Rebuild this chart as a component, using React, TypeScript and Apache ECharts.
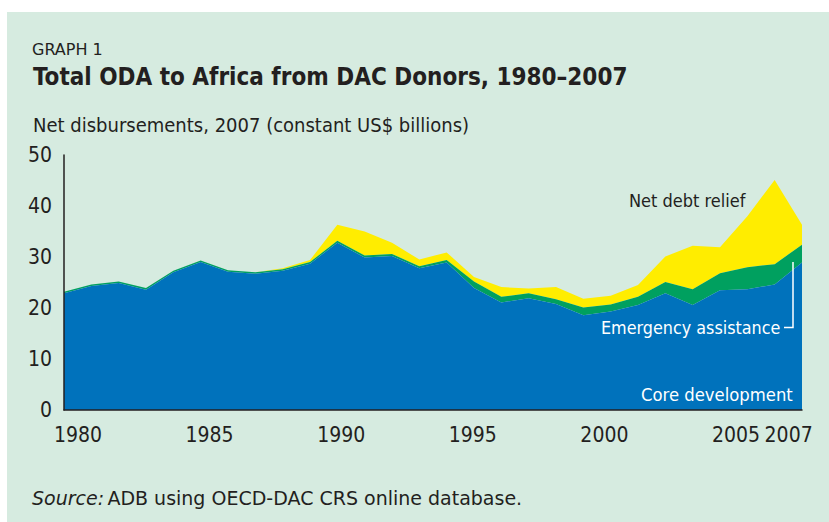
import React, { useEffect, useRef } from "react";
import * as echarts from "echarts";

const years = [
  "1980","1981","1982","1983","1984","1985","1986","1987","1988","1989",
  "1990","1991","1992","1993","1994","1995","1996","1997","1998","1999",
  "2000","2001","2002","2003","2004","2005","2006","2007",
];
const yearTickLabels = [1980, 1985, 1990, 1995, 2000, 2005, 2007];

const coreDevelopment = [
  22.9, 24.3, 24.9, 23.6, 27.0, 29.0, 27.1, 26.7, 27.3, 28.7,
  32.8, 29.9, 30.2, 27.8, 28.9, 23.9, 21.1, 21.9, 20.8, 18.6,
  19.3, 20.6, 22.9, 20.6, 23.5, 23.7, 24.6, 28.9,
];
const emergencyAssistance = [
  0.3, 0.3, 0.3, 0.3, 0.3, 0.3, 0.3, 0.3, 0.3, 0.3,
  0.4, 0.4, 0.4, 0.4, 0.5, 1.3, 1.1, 1.0, 0.9, 1.5,
  1.4, 1.6, 2.2, 3.1, 3.3, 4.3, 4.0, 3.5,
];
const netDebtRelief = [
  0, 0, 0, 0, 0, 0, 0, 0, 0.2, 0.4,
  3.1, 4.7, 2.2, 1.3, 1.5, 0.9, 1.9, 0.9, 2.4, 1.7,
  1.7, 2.3, 5.0, 8.5, 5.1, 10.0, 16.5, 3.9,
];

const COND = "'DejaVu Sans Condensed', 'Liberation Sans Narrow', sans-serif";
const WIDE = "'DejaVu Sans', sans-serif";
const TEXT = "#231f20";

export default function App() {
  const ref = useRef<HTMLDivElement>(null);
  useEffect(() => {
    if (!ref.current) return;
    const chart = echarts.init(ref.current, undefined, { renderer: "svg" });
    chart.setOption({
      animation: false,
      backgroundColor: "#ffffff",
      textStyle: { fontFamily: COND },
      grid: { left: 64, right: 27, top: 155, bottom: 112, containLabel: false },
      xAxis: [
        {
          type: "category",
          data: years,
          boundaryGap: false,
          axisLine: { show: true, lineStyle: { color: TEXT, width: 1.5 } },
          axisTick: { show: false },
          axisLabel: { show: false },
          splitLine: { show: false },
          z: 10,
        },
        {
          type: "value",
          position: "bottom",
          min: 1979.468,
          max: 2007.508,
          axisLine: { show: false },
          axisTick: { show: false },
          splitLine: { show: false },
          axisLabel: {
            customValues: yearTickLabels,
            formatter: (v: number) => String(Math.round(v)),
            color: TEXT,
            fontSize: 21,
            fontFamily: COND,
            margin: 14,
          },
        },
      ],
      yAxis: {
        type: "value",
        min: 0,
        max: 50,
        interval: 10,
        axisLine: { show: true, lineStyle: { color: TEXT, width: 1.5 } },
        axisTick: { show: false },
        axisLabel: { color: TEXT, fontSize: 21, fontFamily: COND, margin: 12 },
        splitLine: { show: false },
        z: 10,
      },
      series: [
        {
          name: "Core development",
          type: "line",
          stack: "oda",
          data: coreDevelopment,
          symbol: "none",
          lineStyle: { width: 0 },
          areaStyle: { color: "#0072bc", opacity: 1 },
          z: 3,
        },
        {
          name: "Emergency assistance",
          type: "line",
          stack: "oda",
          data: emergencyAssistance,
          symbol: "none",
          lineStyle: { width: 0 },
          areaStyle: { color: "#00a05f", opacity: 1 },
          z: 2,
        },
        {
          name: "Net debt relief",
          type: "line",
          stack: "oda",
          data: netDebtRelief,
          symbol: "none",
          lineStyle: { width: 0 },
          areaStyle: { color: "#ffed00", opacity: 1 },
          z: 1,
        },
      ],
      graphic: [
        {
          type: "rect",
          z: -10,
          silent: true,
          shape: { x: 7, y: 12, width: 822, height: 510 },
          style: { fill: "#d6ebe0" },
        },
        {
          type: "text",
          x: 32,
          y: 49,
          style: { text: "GRAPH 1", fontSize: 16, fill: TEXT, fontFamily: WIDE, verticalAlign: "middle" },
        },
        {
          type: "text",
          x: 33,
          y: 77,
          style: { text: "Total ODA to Africa from DAC Donors, 1980–2007", fontSize: 24, fontWeight: "bold", fill: TEXT, fontFamily: COND, verticalAlign: "middle" },
        },
        {
          type: "text",
          x: 33,
          y: 125,
          style: { text: "Net disbursements, 2007 (constant US$ billions)", fontSize: 20, fill: TEXT, fontFamily: COND, verticalAlign: "middle" },
        },
        {
          type: "text",
          x: 629,
          y: 200,
          z: 20,
          style: { text: "Net debt relief", fontSize: 18, fill: TEXT, fontFamily: COND, verticalAlign: "middle" },
        },
        {
          type: "text",
          x: 601,
          y: 327,
          z: 20,
          style: { text: "Emergency assistance", fontSize: 17.8, fill: "#ffffff", fontFamily: COND, verticalAlign: "middle" },
        },
        {
          type: "polyline",
          z: 20,
          shape: { points: [[784, 327.5], [793, 327.5], [793, 262]] },
          style: { stroke: "#ffffff", lineWidth: 1.5, fill: "none" },
        },
        {
          type: "text",
          x: 641,
          y: 394,
          z: 20,
          style: { text: "Core development", fontSize: 18.3, fill: "#ffffff", fontFamily: COND, verticalAlign: "middle" },
        },
        {
          type: "text",
          x: 32,
          y: 498,
          style: {
            rich: {
              i: { fontStyle: "italic", fontSize: 19, fill: TEXT, fontFamily: WIDE },
              n: { fontSize: 19, fill: TEXT, fontFamily: WIDE },
            },
            text: "{i|Source:} {n|ADB using OECD-DAC CRS online database.}",
            verticalAlign: "middle",
          },
        },
      ],
    });
    return () => chart.dispose();
  }, []);
  return (
    <div style={{ position: "absolute", left: 0, top: 0, width: 829, height: 522 }}>
      <div ref={ref} style={{ width: 829, height: 522 }} />
    </div>
  );
}
